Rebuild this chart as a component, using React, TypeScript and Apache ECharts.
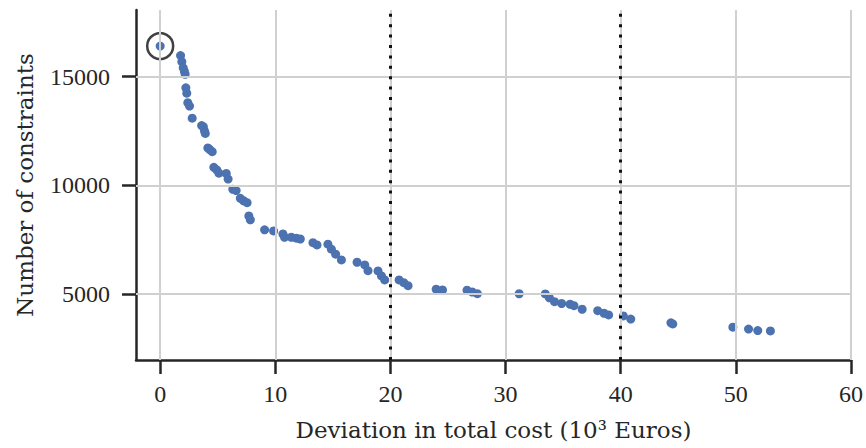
import React, { useEffect, useRef } from "react";
import * as echarts from "echarts";

// Deviation in total cost (10^3 Euros)
const costDeviation = [
  0, 1.77, 1.88, 2.0, 2.1, 2.17, 2.23, 2.31, 2.4, 2.55, 2.78, 3.6, 3.75, 3.85, 3.92,
  4.14, 4.3, 4.52, 4.66, 4.92, 5.1, 5.74, 5.9, 6.31, 6.6, 6.96, 7.24, 7.55, 7.7, 7.83,
  9.07, 9.85, 10.66, 10.8, 11.39, 11.83, 12.17, 13.27, 13.62, 14.57, 14.87, 15.24, 15.74,
  17.1, 17.77, 18.05, 18.92, 19.22, 19.5, 20.75, 21.16, 21.53, 23.97, 24.52, 26.65, 27.1,
  27.55, 31.18, 33.45, 33.8, 34.25, 34.87, 35.6, 35.94, 36.65, 38.0, 38.55, 38.95, 40.23,
  40.87, 44.36, 44.52, 49.74, 51.1, 51.9, 53.0,
];
// Number of constraints
const constraints = [
  16410, 15970, 15690, 15410, 15250, 15110, 14490, 14240, 13800, 13650, 13090, 12750, 12700, 12500, 12390,
  11720, 11650, 11550, 10830, 10710, 10560, 10550, 10290, 9820, 9760, 9400, 9290, 9200, 8590, 8410,
  7950, 7900, 7760, 7610, 7610, 7565, 7530, 7360, 7255, 7290, 7060, 6830, 6565,
  6460, 6335, 6070, 6060, 5830, 5645, 5645, 5520, 5380, 5216, 5184, 5170, 5090,
  5015, 5010, 5000, 4820, 4646, 4560, 4526, 4462, 4296, 4231, 4112, 4035, 3989,
  3845, 3670, 3620, 3469, 3385, 3313, 3299,
];
const highlightIndex = 0;
const thresholds = [20, 40];
const xTicks = [0, 10, 20, 30, 40, 50, 60];
const yTicks = [5000, 10000, 15000];

// axis ranges of the plot
const X_MIN = -2.1;
const X_MAX = 60;
const Y_MIN = 1960;
const Y_MAX = 18070;

// plot area
const GRID_LEFT = 136;
const GRID_TOP = 10;
const GRID_W = 715;
const GRID_H = 350;

const FONT = "'Liberation Serif', 'DejaVu Serif', serif";
const NAME_FONT = "'DejaVu Serif', 'Liberation Serif', serif";
const DARK = "#262626";
const GRID = "#d0d0d0";
const TICK_LEN = 14;

export default function App() {
  const ref = useRef<HTMLDivElement>(null);
  useEffect(() => {
    if (!ref.current) return;
    const chart = echarts.init(ref.current, undefined, { renderer: "svg" });
    const points = costDeviation.map((x, i) => [x, constraints[i]]);
    const gridLines = [
      ...xTicks.map((v) => ({ xAxis: v })),
      ...yTicks.map((v) => ({ yAxis: v })),
    ];

    // Helper grids whose axis ranges start exactly on the first tick, so that
    // ECharts' own ticks and labels fall on the same pixels as the main axes.
    const xStep = xTicks[1] - xTicks[0];
    const yStep = yTicks[1] - yTicks[0];
    const xFrac = (v: number) => (v - X_MIN) / (X_MAX - X_MIN);
    const yFrac = (v: number) => (Y_MAX - v) / (Y_MAX - Y_MIN);
    const xt0 = xTicks[0];
    const xt1 = xTicks[xTicks.length - 1];
    const yt0 = yTicks[0];
    const yt1 = yTicks[yTicks.length - 1];
    const tickGridX = {
      left: GRID_LEFT + xFrac(xt0) * GRID_W,
      width: (xFrac(xt1) - xFrac(xt0)) * GRID_W,
      top: GRID_TOP,
      height: GRID_H,
    };
    const tickGridY = {
      left: GRID_LEFT,
      width: GRID_W,
      top: GRID_TOP + yFrac(yt1) * GRID_H,
      height: (yFrac(yt0) - yFrac(yt1)) * GRID_H,
    };

    const labelStyle = { fontFamily: FONT, fontSize: 24, color: DARK };
    const tickStyle = { show: true, inside: false, length: TICK_LEN, lineStyle: { color: DARK, width: 2.5 } };

    chart.setOption({
      animation: false,
      grid: [
        { left: GRID_LEFT, top: GRID_TOP, width: GRID_W, height: GRID_H, containLabel: false },
        { ...tickGridX, containLabel: false },
        { ...tickGridY, containLabel: false },
      ],
      xAxis: [
        {
          gridIndex: 0,
          type: "value",
          min: X_MIN,
          max: X_MAX,
          name: "Deviation in total cost (10³ Euros)",
          nameLocation: "middle",
          nameGap: 58,
          nameTextStyle: { fontFamily: NAME_FONT, fontSize: 23, color: DARK },
          axisLine: { show: true, onZero: false, lineStyle: { color: DARK, width: 2.5 } },
          axisTick: { show: false },
          axisLabel: { show: false },
          splitLine: { show: false },
        },
        {
          gridIndex: 1,
          type: "value",
          min: xt0,
          max: xt1,
          interval: xStep,
          axisLine: { show: false, onZero: false },
          axisTick: tickStyle,
          axisLabel: { ...labelStyle, margin: 22, formatter: (v: number) => String(v) },
          splitLine: { show: false },
        },
        {
          gridIndex: 2,
          type: "value",
          show: false,
          min: X_MIN,
          max: X_MAX,
        },
      ],
      yAxis: [
        {
          gridIndex: 0,
          type: "value",
          min: Y_MIN,
          max: Y_MAX,
          name: "Number of constraints",
          nameLocation: "middle",
          nameGap: 100,
          nameTextStyle: { fontFamily: NAME_FONT, fontSize: 23, color: DARK },
          axisLine: { show: true, onZero: false, lineStyle: { color: DARK, width: 2.5 } },
          axisTick: { show: false },
          axisLabel: { show: false },
          splitLine: { show: false },
        },
        {
          gridIndex: 1,
          type: "value",
          show: false,
          min: Y_MIN,
          max: Y_MAX,
        },
        {
          gridIndex: 2,
          type: "value",
          min: yt0,
          max: yt1,
          interval: yStep,
          axisLine: { show: false, onZero: false },
          axisTick: tickStyle,
          axisLabel: { ...labelStyle, margin: 26, formatter: (v: number) => String(v) },
          splitLine: { show: false },
        },
      ],
      series: [
        {
          type: "scatter",
          xAxisIndex: 0,
          yAxisIndex: 0,
          data: [],
          z: 0,
          silent: true,
          markLine: {
            silent: true,
            symbol: ["none", "none"],
            label: { show: false },
            lineStyle: { color: GRID, width: 2, type: "solid" },
            data: gridLines,
          },
        },
        {
          type: "scatter",
          xAxisIndex: 0,
          yAxisIndex: 0,
          data: [],
          z: 1,
          silent: true,
          markLine: {
            silent: true,
            symbol: ["none", "none"],
            label: { show: false },
            lineStyle: { color: "#111111", width: 3, type: [3, 7.4], cap: "butt" },
            data: thresholds.map((v) => ({ xAxis: v })),
          },
        },
        { type: "scatter", xAxisIndex: 1, yAxisIndex: 1, data: [], silent: true },
        { type: "scatter", xAxisIndex: 2, yAxisIndex: 2, data: [], silent: true },
        {
          type: "scatter",
          xAxisIndex: 0,
          yAxisIndex: 0,
          data: points,
          z: 3,
          symbol: "circle",
          symbolSize: 9,
          itemStyle: { color: "#4C72B0", opacity: 1 },
        },
        {
          type: "scatter",
          xAxisIndex: 0,
          yAxisIndex: 0,
          data: [points[highlightIndex]],
          z: 4,
          symbol: "circle",
          symbolSize: 26,
          itemStyle: { color: "rgba(0,0,0,0)", borderColor: "#111111", borderWidth: 2.5 },
        },
      ],
    });
    return () => chart.dispose();
  }, []);
  return (
    <div
      ref={ref}
      style={{ position: "fixed", left: 0, top: 0, width: 866, height: 448, background: "#fff" }}
    />
  );
}
